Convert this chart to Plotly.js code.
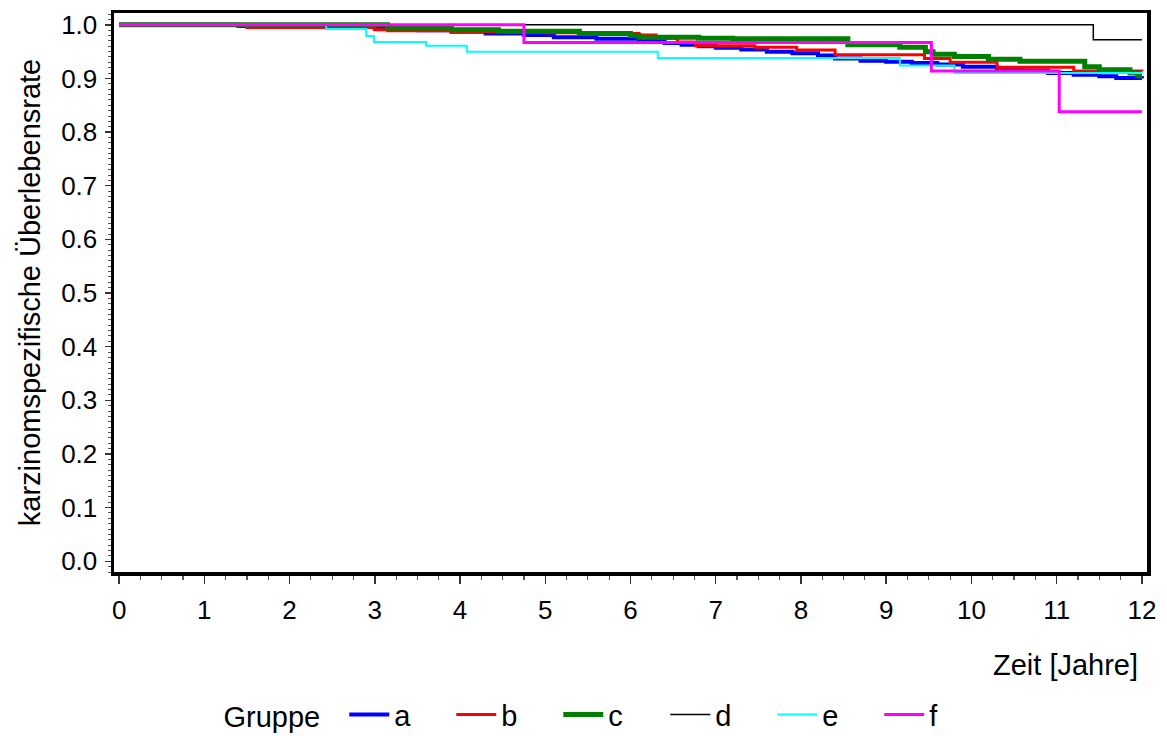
<!DOCTYPE html>
<html>
<head>
<meta charset="utf-8">
<script src="https://cdn.plot.ly/plotly-3.0.1.min.js"></script>
<style>html,body{margin:0;padding:0;background:#fff}#chart{width:1167px;height:736px}</style>
</head>
<body>
<div id="chart"></div>
<script>
// Gruppe a
const aX = [0, 1.4, 2.3, 3.0, 3.5, 3.9, 4.3, 4.75, 5.1, 5.6, 6.1, 6.4, 6.6, 6.8, 7.0, 7.3, 7.6, 7.9, 8.2, 8.4, 8.7, 9.0, 9.3, 9.6, 9.9, 10.3, 10.6, 10.9, 11.2, 11.5, 11.7, 12];
const aY = [1.0, 0.998, 0.996, 0.993, 0.990, 0.987, 0.984, 0.981, 0.977, 0.974, 0.970, 0.966, 0.963, 0.960, 0.957, 0.954, 0.950, 0.947, 0.943, 0.937, 0.933, 0.931, 0.929, 0.926, 0.922, 0.919, 0.915, 0.910, 0.907, 0.904, 0.901, 0.900];
// Gruppe b
const bX = [0, 1.5, 3.0, 3.15, 3.9, 4.5, 5.0, 5.6, 6.1, 6.3, 6.55, 6.76, 7.46, 7.95, 8.4, 9.45, 9.75, 10.3, 11.2, 12];
const bY = [1.0, 0.995, 0.991, 0.989, 0.987, 0.986, 0.985, 0.984, 0.981, 0.975, 0.968, 0.961, 0.958, 0.953, 0.944, 0.937, 0.930, 0.921, 0.914, 0.913];
// Gruppe c
const cX = [0, 3.15, 3.9, 4.45, 5.4, 6.0, 6.1, 6.8, 7.2, 8.55, 9.16, 9.46, 9.55, 9.8, 10.2, 10.57, 11.33, 11.5, 11.86, 11.95, 12];
const cY = [1.0, 0.994, 0.991, 0.988, 0.984, 0.980, 0.977, 0.975, 0.974, 0.963, 0.958, 0.950, 0.945, 0.941, 0.936, 0.932, 0.922, 0.916, 0.910, 0.905, 0.905];
// Gruppe d
const dX = [0, 11.43, 12];
const dY = [1.0, 0.972, 0.972];
// Gruppe e
const eX = [0, 2.43, 2.90, 2.99, 3.60, 4.08, 6.32, 9.16, 9.80, 12];
const eY = [1.0, 0.992, 0.979, 0.968, 0.961, 0.950, 0.938, 0.924, 0.910, 0.909];
// Gruppe f
const fX = [0, 4.75, 9.53, 11.03, 12];
const fY = [1.0, 0.967, 0.914, 0.838, 0.838];

const groups = ['a', 'b', 'c', 'd', 'e', 'f'];
const xs = [aX, bX, cX, dX, eX, fX];
const ys = [aY, bY, cY, dY, eY, fY];
const colors = ['#0000ff', '#ff0000', '#008000', '#000000', '#00ffff', '#ff00ff'];
const widths = [4, 3, 5, 1.5, 2, 3];

const FONT = 'Liberation Sans, Arial, sans-serif';

const traces = groups.map((g, i) => ({
  x: xs[i], y: ys[i], name: g, type: 'scatter', mode: 'lines',
  line: {shape: 'hv', color: colors[i], width: widths[i]}
}));

const layout = {
  width: 1167, height: 736,
  margin: {l: 114, r: 20, t: 13, b: 164, autoexpand: false},
  paper_bgcolor: '#fff', plot_bgcolor: '#fff',
  font: {family: FONT, size: 29, color: '#000'},
  showlegend: true,
  legend: {
    orientation: 'h', x: 0.104, xanchor: 'left', y: -0.255, yanchor: 'middle',
    title: {text: 'Gruppe  ', side: 'left', font: {size: 29}},
    font: {size: 29}, entrywidth: 52, entrywidthmode: 'pixels', traceorder: 'normal',
    itemwidth: 40
  },
  xaxis: {
    range: [-0.06, 12.06], dtick: 1, tick0: 0,
    ticks: 'outside', ticklen: 8, tickwidth: 1.5, tickcolor: '#333',
    minor: {dtick: 0.25, ticks: 'outside', ticklen: 4, tickwidth: 1.2, tickcolor: '#555'},
    showline: true, linewidth: 3.5, linecolor: '#000', mirror: true,
    showgrid: false, zeroline: false,
    tickfont: {size: 26}, ticklabelstandoff: 4
  },
  yaxis: {
    range: [-0.02, 1.022], dtick: 0.1, tick0: 0, tickformat: '.1f',
    ticks: 'outside', ticklen: 6, tickwidth: 1.5, tickcolor: '#333',
    minor: {dtick: 0.01, ticks: 'outside', ticklen: 3, tickwidth: 1, tickcolor: '#555'},
    showline: true, linewidth: 3.5, linecolor: '#000', mirror: true,
    showgrid: false, zeroline: false,
    tickfont: {size: 26}, ticklabelstandoff: 2,
    title: {text: 'karzinomspezifische Überlebensrate', font: {size: 29}, standoff: 13}
  },
  annotations: [{
    text: 'Zeit [Jahre]', xref: 'paper', yref: 'paper', x: 0.993, y: -0.166,
    xanchor: 'right', yanchor: 'middle', showarrow: false, font: {size: 29}
  }]
};

Plotly.newPlot('chart', traces, layout, {displayModeBar: false, staticPlot: true});
</script>
</body>
</html>
